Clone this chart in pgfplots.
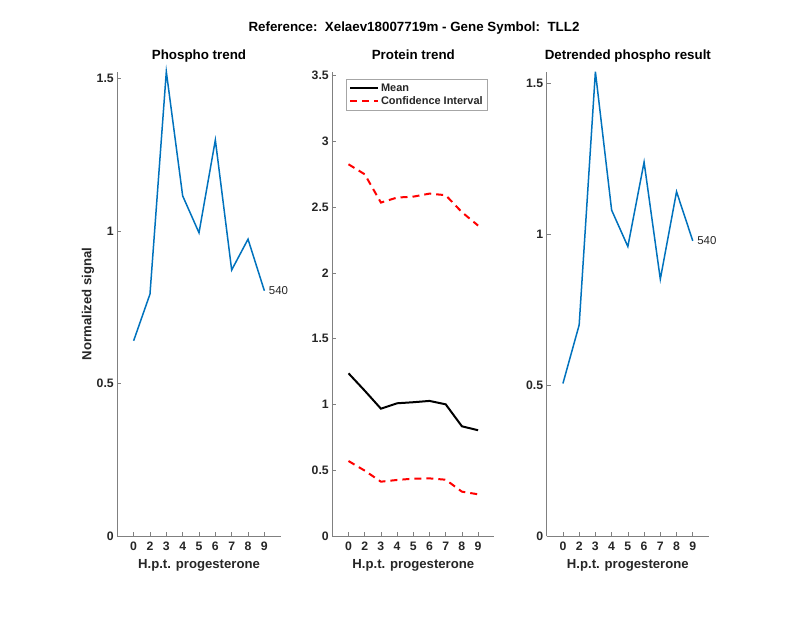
\documentclass[border=0pt]{standalone}
\usepackage{fontspec}
\setmainfont{Liberation Sans}
\usepackage{pgfplots}
\usepackage{pgfplotstable}
\pgfplotsset{compat=1.18}

\definecolor{mblue}{rgb}{0,0.447,0.741}
\definecolor{axgray}{gray}{0.5}
\definecolor{txt}{gray}{0.15}

% x = sample index (labels 0,2,...,9)
\pgfplotstableread{
idx phospho
1 0.640
2 0.793
3 1.522
4 1.115
5 0.994
6 1.298
7 0.872
8 0.973
9 0.804
}\phospho

\pgfplotstableread{
idx mean upper lower
1 1.237 2.826 0.570
2 1.105 2.750 0.497
3 0.968 2.535 0.413
4 1.009 2.573 0.426
5 1.017 2.580 0.436
6 1.027 2.603 0.438
7 1.001 2.591 0.428
8 0.834 2.462 0.337
9 0.804 2.360 0.317
}\protein

\pgfplotstableread{
idx detr
1 0.506
2 0.700
3 1.540
4 1.081
5 0.960
6 1.240
7 0.852
8 1.142
9 0.979
}\detrended

\pgfplotsset{
  panel/.style={
    scale only axis, height=464.3bp, anchor=south west,
    xmin=0, xmax=10, ymin=0,
    axis x line*=bottom, axis y line*=left,
    axis line style={-, draw=axgray, line width=0.6bp},
    tick style={draw=axgray, line width=0.6bp},
    tick align=inside, major tick length=4bp,
    xtick={1,...,9}, xticklabels={0,2,3,4,5,6,7,8,9},
    /pgf/number format/assume math mode=true,
    tick label style={font=\fontsize{12.3}{14}\selectfont\bfseries, text=txt},
    xticklabel style={yshift=-2.5bp},
    title style={font=\fontsize{13.4}{15}\selectfont\bfseries, at={(axis description cs:0.5,1)}, anchor=base, yshift=6.2bp},
    label style={font=\fontsize{13.2}{15}\selectfont\bfseries, text=txt},
    xlabel={H.p.t. progesterone},
    xlabel style={at={(axis description cs:0.5,-0.0625)}, anchor=center},
    clip=false,
  },
}
\tikzset{endlabel/.style={anchor=west, xshift=1bp, font=\fontsize{11.5}{13}\selectfont, text=txt}}

\begin{document}
\begin{tikzpicture}
\path[use as bounding box] (0,0) rectangle (800bp,618bp);

\node[anchor=base, font=\fontsize{13.4}{15}\selectfont\bfseries] at (414bp,586bp)
  {Reference:\ \ Xelaev18007719m - Gene Symbol:\ \ TLL2};

\begin{axis}[panel, at={(117.3bp,82bp)}, width=163.4bp,
    ymax=1.522, ytick={0,0.5,1,1.5},
    title={Phospho trend},
    ylabel={Normalized signal},
    ylabel style={at={(axis description cs:-0.18,0.5)}, anchor=center}]
  \addplot[mblue, line width=1.5bp] table[x=idx, y=phospho] {\phospho};
  \node[endlabel] at (axis cs:9,0.804) {540};
\end{axis}

\begin{axis}[panel, at={(332.3bp,82bp)}, width=162bp,
    ymax=3.53, ytick={0,0.5,...,3.5},
    title={Protein trend},
    legend style={at={(axis description cs:0.083,0.984)}, anchor=north west,
      draw=black!35, line width=0.6bp, font=\fontsize{11}{12}\selectfont\bfseries,
      text=txt, inner xsep=3bp, inner ysep=2.5bp, row sep=-0.5bp, cells={anchor=west}},
    legend image code/.code={\draw[#1] (0bp,0bp) -- (28bp,0bp);}]
  \addplot[black, line width=2bp] table[x=idx, y=mean] {\protein};
  \addlegendentry{Mean}
  \addplot[red, line width=2bp, dash pattern=on 7bp off 5bp] table[x=idx, y=upper] {\protein};
  \addlegendentry{Confidence Interval}
  \addplot[red, line width=2bp, dash pattern=on 7bp off 5bp, forget plot] table[x=idx, y=lower] {\protein};
\end{axis}

\begin{axis}[panel, at={(546.7bp,82bp)}, width=162.3bp,
    ymax=1.540, ytick={0,0.5,1,1.5},
    title={Detrended phospho result}]
  \addplot[mblue, line width=1.5bp] table[x=idx, y=detr] {\detrended};
  \node[endlabel] at (axis cs:9,0.979) {540};
\end{axis}
\end{tikzpicture}
\end{document}
